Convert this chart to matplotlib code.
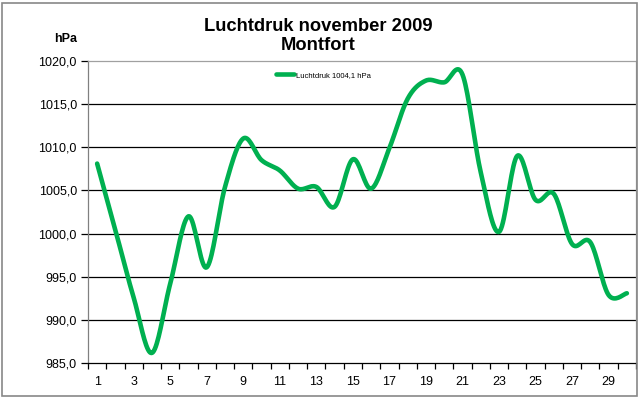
import numpy as np
import matplotlib.pyplot as plt
from matplotlib.patches import Rectangle
from matplotlib.ticker import FixedLocator, FuncFormatter

# dagen van november 2009 en luchtdruk (hPa)
days = list(range(1, 31))
pressure = [1008.1, 1000.4, 992.6, 986.2, 994.2, 1002.0, 996.1, 1005.4, 1011.0, 1008.5,
            1007.3, 1005.2, 1005.4, 1003.1, 1008.6, 1005.2, 1009.9, 1015.6, 1017.7, 1017.5,
            1018.4, 1007.1, 1000.2, 1009.0, 1003.9, 1004.6, 998.8, 999.0, 992.9, 993.1]
yticks = [985, 990, 995, 1000, 1005, 1010, 1015, 1020]
title = "Luchtdruk november 2009\nMontfort"
legend_label = "Luchtdruk 1004,1 hPa"
green = '#00B050'


def smooth(x, y, n=20):
    # excel-achtige gladde lijn (bezier, catmull-rom)
    p = np.column_stack([x, y]).astype(float)
    pts = np.vstack([p[0], p, p[-1]])
    out = []
    for i in range(1, len(pts) - 2):
        p0, p1, p2, p3 = pts[i - 1], pts[i], pts[i + 1], pts[i + 2]
        c1 = p1 + (p2 - p0) / 6
        c2 = p2 - (p3 - p1) / 6
        t = np.linspace(0, 1, n)[:, None]
        seg = (1 - t) ** 3 * p1 + 3 * (1 - t) ** 2 * t * c1 + 3 * (1 - t) * t ** 2 * c2 + t ** 3 * p2
        out.append(seg if i == 1 else seg[1:])
    out = np.vstack(out)
    return out[:, 0], out[:, 1]


plt.rcParams['font.family'] = ['Liberation Sans', 'DejaVu Sans']

fig = plt.figure(figsize=(6.4, 3.98), dpi=100)
ax = fig.add_axes([88 / 640, 1 - 363.3 / 398, (636 - 88) / 640, (363.3 - 60.7) / 398])

# buitenrand van de grafiek
fig.patches.append(Rectangle((2 / 640, 2 / 398), 635 / 640, 393 / 398, transform=fig.transFigure,
                             fill=False, edgecolor='#888888', linewidth=1.2))

for v in yticks[1:-1]:
    ax.axhline(v, color='black', linewidth=0.9, zorder=1)

sx, sy = smooth(days, pressure)
line, = ax.plot(sx, sy, color=green, linewidth=3.3, solid_capstyle='round', zorder=3,
                label=legend_label)

ax.set_xlim(0.5, 30.5)
ax.set_ylim(985, 1020)
ax.yaxis.set_major_locator(FixedLocator(yticks))
ax.yaxis.set_major_formatter(FuncFormatter(lambda v, p: f"{v:.1f}".replace('.', ',')))
ax.xaxis.set_major_locator(FixedLocator([d + 0.5 for d in range(0, 31)]))
ax.xaxis.set_major_formatter(FuncFormatter(lambda v, p: ''))
ax.xaxis.set_minor_locator(FixedLocator(list(range(1, 30, 2))))
ax.xaxis.set_minor_formatter(FuncFormatter(lambda v, p: str(int(v))))
ax.tick_params(axis='x', which='major', direction='out', length=4, width=0.9, color='black')
ax.tick_params(axis='x', which='minor', length=0, pad=9, labelsize=9)
ax.tick_params(axis='y', direction='out', length=5, width=0.9, color='black', labelsize=9, pad=3)

ax.spines['left'].set_color('#808080')
ax.spines['bottom'].set_color('black')
ax.spines['top'].set_color('#a0a0a0')
ax.spines['right'].set_color('#a0a0a0')
for s in ax.spines.values():
    s.set_linewidth(0.9)

fig.text(318 / 640, 1 - 36 / 398, title, ha='center', va='center', fontsize=13.2,
         fontweight='bold', linespacing=1.15)
fig.text(66 / 640, 1 - 39 / 398, "hPa", ha='center', va='center', fontsize=9, fontweight='bold')

ax.legend(loc='center left', bbox_to_anchor=(276 / 640, 1 - 75 / 398), bbox_transform=fig.transFigure,
          frameon=False, fontsize=5.5, handlelength=2.4, handletextpad=0.25,
          borderpad=0, borderaxespad=0)

fig.savefig('out.png', dpi=100)
